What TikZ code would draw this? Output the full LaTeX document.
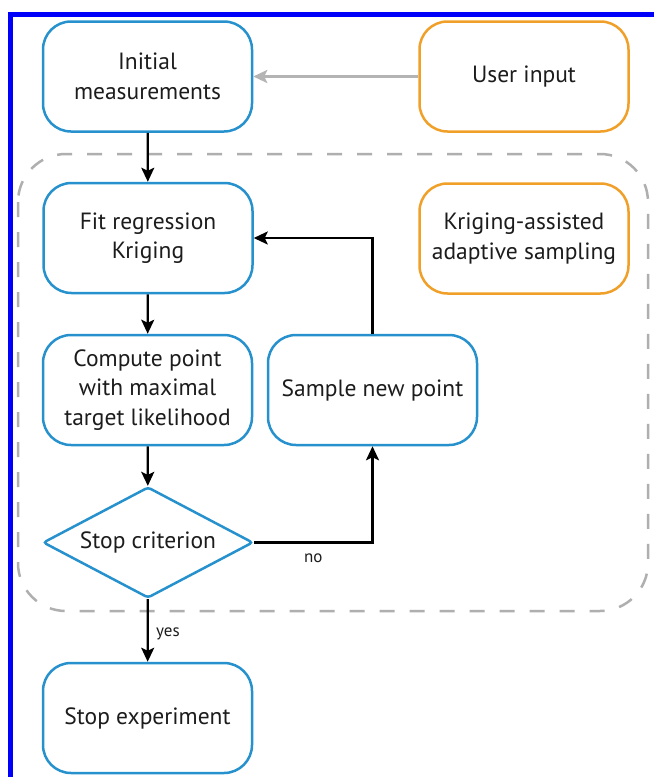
\documentclass[tikz,border=0pt]{standalone}
\usepackage{fontspec}
\setmainfont{PT Sans}
\usetikzlibrary{arrows.meta,shapes.geometric}
\definecolor{flowblue}{RGB}{38,145,205}
\definecolor{floworange}{RGB}{240,160,40}
\definecolor{dashgray}{RGB}{175,175,175}
\definecolor{arrowgray}{RGB}{180,180,180}
\definecolor{txt}{RGB}{28,28,28}
\definecolor{frameblue}{RGB}{0,0,250}
\begin{document}
\begin{tikzpicture}[x=1pt,y=-1pt,
  every node/.style={text=txt, font=\fontsize{23.5}{29.5}\selectfont},
  procbox/.style={draw=flowblue, fill=white, line width=2.5pt, rounded corners=28pt,
    minimum width=209pt, minimum height=110pt, align=center, inner sep=0pt},
  notebox/.style={procbox, draw=floworange},
  decision/.style={diamond, aspect=1.89, draw=flowblue, fill=white, line width=2.5pt,
    rounded corners=3pt, minimum width=210pt, minimum height=111pt, inner sep=0pt, align=center},
  flow/.style={draw=black, line width=2.2pt, -{Stealth[length=14pt,width=13pt,inset=3pt]}},
  userflow/.style={draw=arrowgray, line width=2.5pt, -{Stealth[length=14pt,width=13pt,inset=3pt]}},
  lbl/.style={font=\fontsize{17}{19}\selectfont}
]
\useasboundingbox (0,0) rectangle (654,777);
\fill[white] (0,0) rectangle (654,777);

% page frame
\draw[frameblue, line width=4.5pt] (10.5,777) -- (10.5,14.5) -- (654,14.5);

% adaptive sampling loop region
\draw[dashgray, line width=2.5pt, dash pattern=on 15pt off 15pt, rounded corners=48pt]
  (18,154) rectangle (648,611);

% steps
\node[procbox] (init) at (147.5,76.5) {Initial\\measurements};
\node[notebox] (user) at (524,76.5) {User input};
\node[procbox] (fit) at (148,238) {Fit regression\\Kriging};
\node[notebox] (krig) at (524,238.5) {Kriging-assisted\\adaptive sampling};
\node[procbox] (comp) at (147.5,390) {Compute point\\with maximal\\target likelihood};
\node[procbox] (samp) at (372.5,390) {Sample new point};
\node[decision] (crit) at (148,542.5) {Stop criterion};
\node[procbox] (stop) at (147.5,718) {Stop experiment};

% connectors
\draw[userflow] (user) -- (init);
\draw[flow] (init) -- (fit);
\draw[flow] (fit) -- (comp);
\draw[flow] (comp) -- (crit);
\draw[flow] (crit) -- node[lbl, right, xshift=4pt, yshift=-3pt] {yes} (stop);
\draw[flow] (crit.east) -| node[lbl, pos=0.25, below, yshift=-7pt] {no} (samp.south);
\draw[flow] (samp.north) |- (fit.east);
\end{tikzpicture}
\end{document}
